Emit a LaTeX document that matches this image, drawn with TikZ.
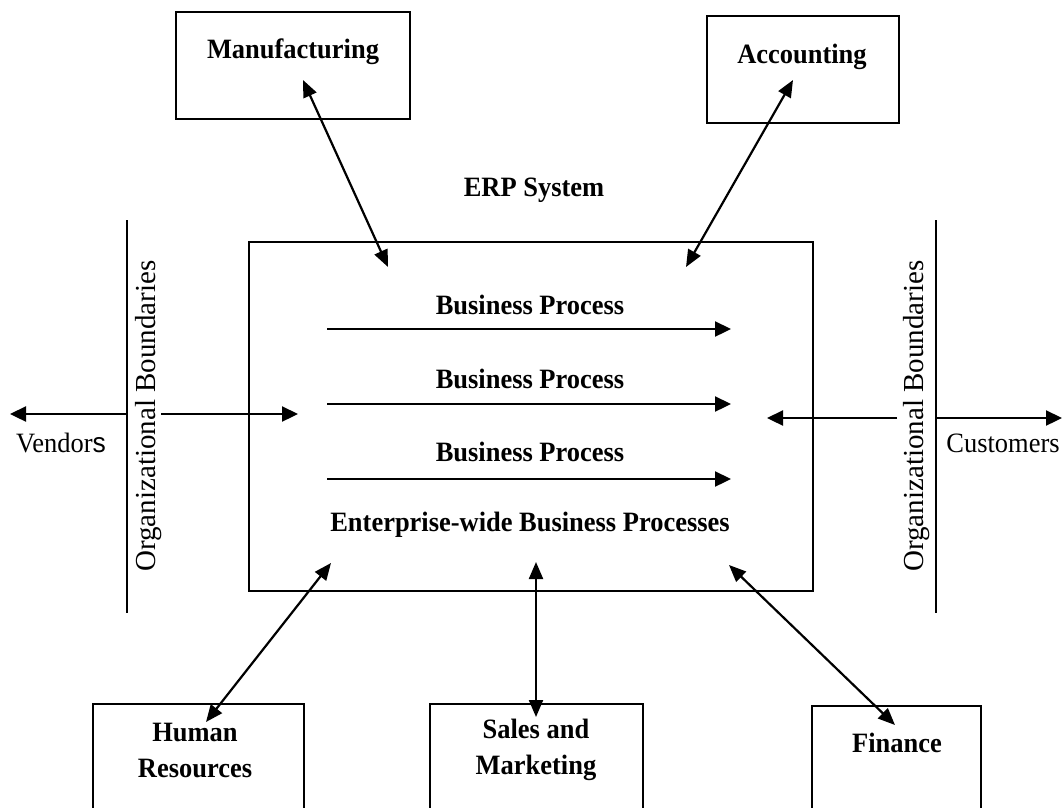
\documentclass[tikz,border=0pt]{standalone}
\usepackage{fontspec}
\setmainfont{Liberation Serif}[FakeStretch=0.945]
\newfontfamily\uprightserif{Liberation Serif}
\newfontfamily\arialfont{Liberation Sans}[FakeStretch=0.945]
\usetikzlibrary{arrows.meta}
\begin{document}
\begin{tikzpicture}[x=1pt,y=-1pt,
  frame/.style={draw, line width=1.5pt, inner sep=0pt},
  lbl/.style={font=\fontsize{28}{36}\selectfont\bfseries, align=center, inner sep=0pt},
  plain/.style={font=\fontsize{28}{34}\selectfont, inner sep=0pt},
  sidetext/.style={font=\uprightserif\fontsize{29}{34}\selectfont, inner sep=0pt, rotate=90},
  flow/.style={line width=2.3pt, -{Triangle[length=16pt,width=15pt]}},
  twoway/.style={line width=2.2pt, {Triangle[length=17pt,width=14pt]}-{Triangle[length=17pt,width=14pt]}},
  wall/.style={line width=1.6pt}]

\clip (0,0) rectangle (1063,807);
\fill[white] (0,0) rectangle (1063,807);

% functional areas around the ERP system
\node[frame, minimum width=234pt, minimum height=107pt] (mfg) at (293,65.5) {};
\node[lbl] (mfgtxt) at (293,52) {Manufacturing};
\node[frame, minimum width=192pt, minimum height=107pt] (acc) at (803,69.5) {};
\node[lbl] (acctxt) at (802,57) {Accounting};
\node[frame, minimum width=211pt, minimum height=126pt] (hr) at (198.5,767) {};
\node[lbl] (hrtxt) at (195,750) {Human\\Resources};
\node[frame, minimum width=213pt, minimum height=126pt] (sales) at (536.5,767) {};
\node[lbl] (salestxt) at (536,750) {Sales and\\Marketing};
\node[frame, minimum width=169pt, minimum height=124pt] (fin) at (896.5,768) {};
\node[lbl] (fintxt) at (897,743) {Finance};

% the ERP system
\node[lbl] (erp) at (534,190) {ERP System};
\node[frame, minimum width=564pt, minimum height=349pt] (sys) at (531,416.5) {};
\node[lbl] (bp1) at (530,305) {Business Process};
\node[lbl] (bp2) at (530,379) {Business Process};
\node[lbl] (bp3) at (530,452) {Business Process};
\node[lbl] (ewbp) at (530,525) {Enterprise-wide Business Processes};

\coordinate (bp1s) at (327,329); \coordinate (bp1e) at (731,329);
\coordinate (bp2s) at (327,404); \coordinate (bp2e) at (731,404);
\coordinate (bp3s) at (327,479); \coordinate (bp3e) at (731,479);
\draw[flow] (bp1s) -- (bp1e);
\draw[flow] (bp2s) -- (bp2e);
\draw[flow] (bp3s) -- (bp3e);

% organizational boundaries
\coordinate (lwtop) at (127,220); \coordinate (lwbot) at (127,613);
\coordinate (rwtop) at (936,220); \coordinate (rwbot) at (936,613);
\draw[wall] (lwtop) -- (lwbot);
\draw[wall] (rwtop) -- (rwbot);
\node[sidetext] (lorg) at (149,416) {Organizational Boundaries};
\node[sidetext] (rorg) at (917,416) {Organizational Boundaries};

% vendors and customers
\node[plain] (vend) at (61,443) {Vendor{\arialfont s}};
\node[plain] (cust) at (1003,443) {Customers};
\coordinate (vwall) at (127,414); \coordinate (vtip) at (10,414);
\coordinate (vin) at (161,414); \coordinate (vsys) at (298,414);
\draw[flow] (vwall) -- (vtip);
\draw[flow] (vin) -- (vsys);
\coordinate (cin) at (897,418); \coordinate (csys) at (767,418);
\coordinate (cwall) at (936,418); \coordinate (ctip) at (1062,418);
\draw[flow] (cin) -- (csys);
\draw[flow] (cwall) -- (ctip);

% links between the functional areas and the ERP system
\coordinate (mfga) at (303,80);  \coordinate (mfgb) at (388,267);
\coordinate (acca) at (793,80);  \coordinate (accb) at (686,267);
\coordinate (hra) at (206,722);  \coordinate (hrb) at (331,563);
\coordinate (salesa) at (536,717); \coordinate (salesb) at (536,562);
\coordinate (fina) at (895,725); \coordinate (finb) at (729,565);
\draw[twoway] (mfga) -- (mfgb);
\draw[twoway] (acca) -- (accb);
\draw[twoway] (hra) -- (hrb);
\draw[twoway] (salesa) -- (salesb);
\draw[twoway] (fina) -- (finb);
\end{tikzpicture}
\end{document}
